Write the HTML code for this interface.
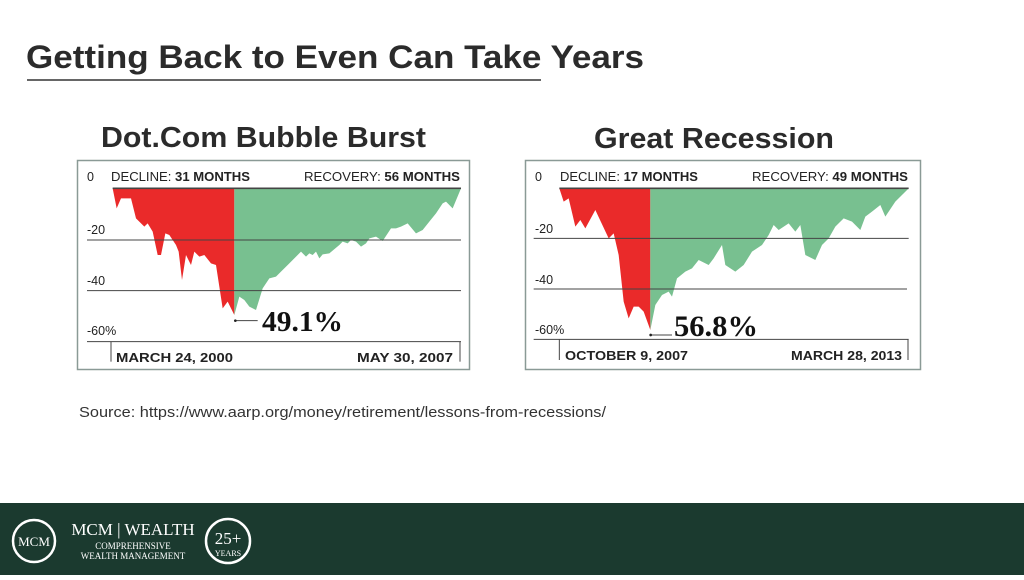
<!DOCTYPE html>
<html><head><meta charset="utf-8"><style>
body{margin:0;width:1024px;height:575px;background:#fff;overflow:hidden;font-family:"Liberation Sans",sans-serif}
</style></head><body>
<svg width="1024" height="575" viewBox="0 0 1024 575" xmlns="http://www.w3.org/2000/svg">
<text x="26" y="68" font-family="Liberation Sans" font-weight="bold" font-size="32" fill="#2b2b2b" textLength="618" lengthAdjust="spacingAndGlyphs">Getting Back to Even Can Take Years</text>
<line x1="27" y1="80" x2="541" y2="80" stroke="#333" stroke-width="1.5"/>
<text x="101" y="147" font-weight="bold" font-size="29" fill="#2b2b2b" textLength="325" lengthAdjust="spacingAndGlyphs">Dot.Com Bubble Burst</text>
<text x="594" y="148" font-weight="bold" font-size="29" fill="#2b2b2b" textLength="240" lengthAdjust="spacingAndGlyphs">Great Recession</text>

<!-- chart 1 -->
<rect x="77.5" y="160.5" width="392" height="209" fill="#fff" stroke="#8a9a96" stroke-width="1.5"/>
<g transform="translate(76,155) scale(0.33333)">
<polygon fill="#ea2a2a" points="110,100 122,160 135,130 165,130 180,190 205,215 215,205 230,230 245,300 255,300 268,235 280,240 300,270 308,290 318,375 330,300 345,330 355,290 370,305 385,300 405,325 420,330 440,460 455,440 475,480 475,100"/>
<polygon fill="#78c090" points="475,480 490,425 505,435 520,455 540,465 560,400 580,370 600,365 615,350 640,325 675,290 690,305 700,295 710,300 720,290 730,310 740,298 760,295 790,270 800,260 815,265 825,255 840,260 855,275 870,265 880,250 900,245 920,258 945,220 960,220 975,215 995,205 1020,235 1040,225 1060,200 1080,175 1100,145 1110,140 1130,160 1155,100 475,100"/>
<g stroke="#444" stroke-width="3">
<line x1="110" y1="100" x2="1155" y2="100" stroke-width="5"/>
<line x1="33" y1="255" x2="1155" y2="255"/>
<line x1="33" y1="407" x2="1155" y2="407"/>
<line x1="33" y1="560" x2="1155" y2="560"/>
<line x1="105" y1="560" x2="105" y2="620"/>
<line x1="1152" y1="560" x2="1152" y2="620"/>
<line x1="480" y1="497" x2="545" y2="497"/>
</g>
<circle cx="478" cy="497" r="4" fill="#222"/>
</g>
<g font-size="12.5" fill="#222">
<text x="87" y="181">0</text>
<text x="111" y="181" textLength="139" lengthAdjust="spacingAndGlyphs">DECLINE: <tspan font-weight="bold">31 MONTHS</tspan></text>
<text x="304" y="181" textLength="156" lengthAdjust="spacingAndGlyphs">RECOVERY: <tspan font-weight="bold">56 MONTHS</tspan></text>
<text x="87" y="234">-20</text><text x="87" y="285">-40</text><text x="87" y="335">-60%</text>
<text x="116" y="362" font-weight="bold" textLength="117" lengthAdjust="spacingAndGlyphs">MARCH 24, 2000</text>
<text x="357" y="362" font-weight="bold" textLength="96" lengthAdjust="spacingAndGlyphs">MAY 30, 2007</text>
</g>
<text x="262" y="331" font-family="Liberation Serif" font-weight="bold" font-size="29" fill="#111" textLength="81" lengthAdjust="spacingAndGlyphs">49.1%</text>

<!-- chart 2 -->
<rect x="525.5" y="160.5" width="395" height="209" fill="#fff" stroke="#8a9a96" stroke-width="1.5"/>
<g transform="translate(522,155) scale(0.33333)">
<polygon fill="#ea2a2a" points="112,100 125,140 140,130 160,215 175,195 190,220 220,165 260,250 275,235 290,300 305,440 320,490 335,455 350,455 365,470 385,525 385,100"/>
<polygon fill="#78c090" points="385,525 400,450 420,420 440,410 450,425 465,370 490,350 510,340 530,315 560,330 575,310 600,270 610,330 640,350 665,330 690,290 720,270 740,240 755,210 770,225 800,205 820,230 835,210 850,300 880,315 900,270 920,250 940,215 965,190 990,200 1015,225 1030,185 1050,170 1075,150 1090,185 1120,140 1160,100 385,100"/>
<g stroke="#444" stroke-width="3">
<line x1="112" y1="100" x2="1160" y2="100" stroke-width="5"/>
<line x1="35" y1="250" x2="1160" y2="250"/>
<line x1="35" y1="402" x2="1155" y2="402"/>
<line x1="35" y1="553" x2="1160" y2="553"/>
<line x1="112" y1="553" x2="112" y2="615"/>
<line x1="1158" y1="553" x2="1158" y2="615"/>
<line x1="388" y1="540" x2="450" y2="540"/>
</g>
<circle cx="386" cy="540" r="4" fill="#222"/>
</g>
<g font-size="12.5" fill="#222">
<text x="535" y="181">0</text>
<text x="560" y="181" textLength="138" lengthAdjust="spacingAndGlyphs">DECLINE: <tspan font-weight="bold">17 MONTHS</tspan></text>
<text x="752" y="181" textLength="156" lengthAdjust="spacingAndGlyphs">RECOVERY: <tspan font-weight="bold">49 MONTHS</tspan></text>
<text x="535" y="233">-20</text><text x="535" y="284">-40</text><text x="535" y="334">-60%</text>
<text x="565" y="360" font-weight="bold" textLength="123" lengthAdjust="spacingAndGlyphs">OCTOBER 9, 2007</text>
<text x="791" y="360" font-weight="bold" textLength="111" lengthAdjust="spacingAndGlyphs">MARCH 28, 2013</text>
</g>
<text x="674" y="336" font-family="Liberation Serif" font-weight="bold" font-size="30" fill="#111" textLength="84" lengthAdjust="spacingAndGlyphs">56.8%</text>

<text x="79" y="417" font-size="15" fill="#333" textLength="527" lengthAdjust="spacingAndGlyphs">Source: https://www.aarp.org/money/retirement/lessons-from-recessions/</text>

<rect x="0" y="503" width="1024" height="72" fill="#1b3a2f"/>
<g fill="none" stroke="#fff">
<circle cx="34" cy="541" r="21" stroke-width="2.5"/>
<circle cx="228" cy="541" r="22" stroke-width="2.5"/>
</g>
<g fill="#fff" font-family="Liberation Serif">
<text x="34" y="546" text-anchor="middle" font-size="13">MCM</text>
<text x="133" y="535" text-anchor="middle" font-size="17">MCM | WEALTH</text>
<text x="133" y="549" text-anchor="middle" font-size="9">COMPREHENSIVE</text>
<text x="133" y="559" text-anchor="middle" font-size="9">WEALTH MANAGEMENT</text>
<text x="228" y="544" text-anchor="middle" font-size="17">25+</text>
<text x="228" y="556" text-anchor="middle" font-size="8">YEARS</text>
</g>
</svg>
</body></html>
